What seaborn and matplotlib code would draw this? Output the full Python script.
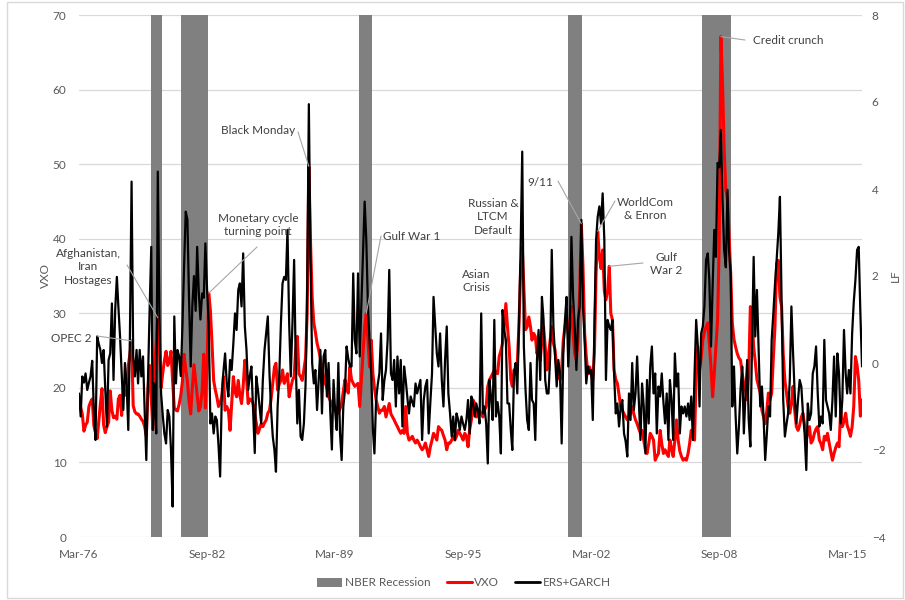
import matplotlib
matplotlib.use("Agg")
import matplotlib.dates as mdates
import matplotlib.pyplot as plt
import pandas as pd
import seaborn as sns
from matplotlib.lines import Line2D
from matplotlib.patches import Patch, Rectangle

# VXO, monthly, Mar-1976 .. Dec-2015 (left axis), one row per year
vxo_1970s = [
    18.2, 17.4, 16.5, 14.2, 15.0, 15.4, 17.5, 18.1, 18.5, 15.0,
    14.0, 13.2, 15.4, 17.8, 19.9, 15.0, 14.0, 14.8, 15.4, 19.6, 17.0, 16.0,
    16.2, 15.8, 18.5, 19.0, 16.3, 19.9, 19.0, 19.2, 23.0, 24.5, 26.3, 17.6,
    16.8, 16.5, 16.5, 16.2, 15.8, 15.5, 14.8, 13.6, 19.9, 23.0, 18.7, 14.5,
]
vxo_1980s = [
    22.7, 26.0, 29.4, 25.4, 20.0, 22.0, 23.6, 24.9, 23.0, 23.6, 24.9, 20.9,
    17.3, 17.0, 16.9, 17.8, 19.0, 20.9, 24.5, 22.5, 20.9, 18.2, 16.5, 20.0,
    23.1, 21.0, 19.1, 16.9, 17.5, 19.6, 24.5, 17.3, 23.1, 32.7, 30.4, 26.0,
    21.0, 19.7, 18.8, 17.5, 18.0, 18.8, 21.5, 17.0, 17.5, 17.0, 14.3, 17.9,
    21.5, 19.5, 18.8, 21.0, 19.0, 17.9, 20.2, 23.7, 21.5, 17.9, 18.5, 18.4,
    17.9, 16.5, 15.2, 13.9, 14.5, 15.2, 14.8, 15.3, 15.7, 16.6, 17.0, 18.5,
    20.6, 22.8, 23.3, 19.7, 20.5, 21.0, 22.4, 20.6, 21.2, 21.9, 18.8, 20.0,
    21.0, 21.5, 25.0, 26.9, 21.9, 21.5, 21.0, 22.4, 24.0, 30.0, 49.7, 39.8,
    32.2, 28.7, 27.5, 26.0, 25.1, 24.0, 22.8, 21.5, 20.6, 20.0, 18.8, 18.3,
    17.9, 17.0, 17.5, 17.0, 16.6, 17.2, 17.9, 19.5, 21.1, 20.0, 19.3, 22.8,
]
vxo_1990s = [
    21.1, 20.6, 20.2, 20.4, 20.6, 17.5, 21.0, 24.6, 28.2, 30.0, 26.4, 22.8,
    26.4, 21.9, 20.0, 18.4, 17.5, 16.6, 17.0, 17.0, 17.5, 16.1, 17.0, 17.9,
    16.5, 16.1, 15.7, 15.2, 14.8, 14.3, 13.9, 14.3, 13.9, 17.5, 13.9, 13.0,
    13.2, 13.5, 13.0, 12.6, 13.0, 12.6, 12.1, 11.7, 12.0, 12.6, 11.7, 10.8,
    12.1, 13.0, 13.9, 13.5, 13.0, 14.8, 14.5, 14.3, 13.6, 13.0, 11.7, 12.6,
    12.6, 13.0, 13.5, 13.0, 13.5, 14.3, 13.9, 13.5, 13.0, 13.9, 13.5, 12.1,
    14.5, 15.7, 18.4, 17.9, 16.1, 16.5, 17.0, 16.5, 16.1, 17.0, 17.5, 20.2,
    21.1, 21.5, 21.9, 22.4, 22.0, 21.9, 24.2, 25.0, 26.0, 28.2, 31.3, 28.2,
    25.5, 21.1, 20.2, 22.4, 21.9, 23.3, 28.2, 35.4, 38.9, 33.6, 27.8, 28.2,
    29.5, 28.2, 26.4, 27.3, 26.9, 24.6, 25.5, 23.7, 26.4, 28.2, 25.5, 22.4,
]
vxo_2000s = [
    24.5, 26.4, 28.2, 26.0, 25.1, 22.8, 21.9, 21.1, 22.4, 26.4, 28.2, 29.5,
    27.3, 28.2, 30.9, 27.3, 24.6, 23.7, 26.4, 33.1, 42.0, 36.3, 27.3, 24.2,
    21.9, 22.8, 21.9, 21.1, 24.6, 35.4, 41.0, 37.6, 36.0, 38.5, 33.0, 31.8,
    33.0, 36.3, 30.0, 29.1, 22.4, 21.1, 20.6, 19.0, 17.5, 17.0, 16.5, 16.1,
    15.7, 16.2, 16.6, 17.5, 16.5, 15.7, 15.2, 14.5, 13.9, 14.3, 13.0, 11.7,
    11.2, 12.5, 13.9, 13.5, 13.0, 10.3, 10.8, 11.2, 14.3, 12.5, 11.2, 11.7,
    11.2, 10.8, 13.0, 11.8, 10.8, 13.0, 15.7, 13.0, 11.5, 10.8, 10.3, 10.5,
    10.3, 11.2, 12.5, 14.3, 13.5, 13.0, 21.9, 25.5, 22.4, 24.0, 26.4, 27.5,
    28.2, 28.7, 26.0, 22.8, 18.8, 22.0, 25.5, 29.1, 39.8, 67.1, 60.8, 52.0,
    46.5, 45.2, 40.7, 35.4, 28.7, 26.5, 25.5, 24.6, 24.0, 23.7, 21.9, 20.5,
]
vxo_2010s = [
    19.7, 18.4, 21.9, 30.9, 30.0, 25.5, 23.5, 21.1, 20.2, 19.3, 17.0, 16.1,
    15.2, 17.0, 19.3, 18.4, 19.3, 24.0, 28.2, 36.7, 37.1, 32.2, 30.9, 24.6,
    21.0, 19.3, 17.5, 16.6, 17.9, 20.2, 17.0, 14.8, 14.3, 15.0, 16.1, 16.6,
    15.0, 13.0, 14.0, 14.8, 12.6, 13.0, 13.9, 14.5, 14.8, 13.0, 12.5, 11.7,
    13.5, 13.0, 13.9, 12.6, 11.5, 10.3, 11.2, 12.0, 12.6, 12.1, 17.0, 14.8,
    15.5, 16.6, 15.0, 14.3, 13.5, 14.8, 17.5, 24.2, 23.0, 21.0, 16.2, 18.4,
]

# ERS+GARCH, same months (right axis "LF")
lf_1970s = [
    -0.70, -1.23, -0.31, -0.45, -0.24, -0.62, -0.45, -0.31, 0.05, -1.08,
    -1.77, 0.61, 0.45, 0.30, 0.00, 0.30, -0.60, -1.46, 0.07, 0.22, 1.37, -0.39,
    1.22, 1.98, 1.30, 0.61, -0.20, -1.08, 0.00, -0.50, -1.54, 0.61, 4.17, 0.15,
    -0.31, 0.30, -0.47, 0.30, -0.31, 0.15, -1.08, -2.23, -0.39, 1.20, 2.67, -1.54,
]
lf_1980s = [
    -0.47, -1.62, 4.40, 1.07, -0.70, -1.20, -1.62, -1.85, -1.08, -1.23, -2.00, -3.30,
    1.07, -0.47, 0.30, 0.15, -0.30, 0.84, 2.20, 3.48, 3.30, 1.50, -0.08, 1.30,
    2.00, 1.20, 2.67, 1.60, 1.00, 1.60, 1.50, 2.75, 1.68, 0.91, -1.39, -1.16,
    -1.62, -1.23, -1.31, -1.90, -2.61, -0.77, -0.20, 0.22, -0.47, -0.77, 0.07, -0.16,
    0.45, 1.14, 0.76, 1.68, 1.83, 1.30, 2.52, 0.84, 0.30, -0.62, -0.30, -0.08,
    -1.08, -2.07, -0.31, -0.62, -1.00, -1.39, -0.39, 0.30, 0.70, 1.07, -0.24, -1.08,
    -1.69, -2.00, -2.50, -1.00, -0.31, 0.91, 1.83, 1.98, 1.91, 3.06, 0.91, -0.31,
    0.91, 2.37, 0.15, -1.39, -0.62, -1.69, -1.77, -1.39, -0.50, 1.68, 5.95, 2.44,
    0.00, -0.47, -0.16, -1.08, -0.39, 0.30, -1.16, 0.15, 0.30, -0.77, 0.00, -1.08,
    -1.99, -0.39, -1.08, -1.54, 0.00, -1.62, -2.23, -1.00, -0.62, 0.38, 0.10, -0.08,
]
lf_1990s = [
    -0.08, 2.06, 0.53, 0.22, 2.06, 0.15, 1.30, 2.50, 3.71, 2.83, 1.30, 0.50,
    -0.24, -1.54, -2.08, -0.85, -0.50, -0.24, 0.68, -0.85, -0.40, -0.16, 0.53, 2.14,
    -0.24, -0.39, 0.07, -1.00, 0.15, -0.70, 0.07, -1.46, -0.08, -0.39, -0.80, -1.16,
    -0.77, -0.90, -1.00, -0.47, -0.70, -0.54, -0.39, -1.77, -0.85, -0.54, -0.39, -1.62,
    -0.90, -0.24, 1.52, 0.84, 0.22, -0.08, 0.68, -0.39, -1.00, 0.07, 0.84, -0.70,
    -1.16, -1.69, -1.23, -1.77, -1.16, -1.30, -1.54, -1.23, -1.40, -1.54, -1.31, -0.85,
    -1.62, -0.77, -0.93, -1.23, -0.93, -1.10, -1.39, 1.14, -1.16, -1.00, -1.39, -2.31,
    -0.39, -0.80, -1.31, 0.99, -1.23, -0.90, -1.23, -2.08, 1.22, 0.76, 0.53, -0.93,
    -0.93, -1.54, -2.00, -0.24, 0.00, -0.70, 0.84, 2.60, 4.86, 0.38, -0.62, -1.31,
    -1.54, 0.00, -0.85, -0.93, -1.77, 0.07, 0.76, -0.39, 1.52, 1.00, -0.39, -0.70,
]
lf_2000s = [
    -0.70, 0.15, 2.60, 0.84, 0.15, -0.54, 0.07, -0.24, -1.85, 0.22, 0.99, 1.52,
    -0.08, 0.84, 2.90, 1.52, 0.84, -0.16, 0.99, 1.30, 3.29, 1.30, 0.53, -0.47,
    -0.08, -0.24, -0.16, -1.31, 0.84, 2.83, 3.36, 3.60, 3.20, 3.90, 2.83, -0.39,
    0.99, 0.84, 0.76, 0.99, -0.24, -1.16, -0.93, -1.46, -1.00, -0.85, -1.62, -1.80,
    -2.15, -0.70, -1.31, 0.00, -1.08, -0.70, 0.15, -0.85, -1.77, -0.47, -1.00, -2.08,
    -0.39, -1.39, -0.08, 0.38, -0.70, -0.24, -1.62, -0.54, -0.77, -0.24, -0.90, -1.39,
    -0.70, -1.77, -0.39, -0.85, -1.77, 0.22, -0.54, -0.24, -1.62, -1.00, -1.16, -1.00,
    -1.23, -0.93, -1.31, -0.77, -1.77, -0.24, 0.99, 0.38, -1.00, 0.68, 0.84, 1.30,
    2.37, 2.52, 1.91, 0.38, 1.75, 3.06, 2.44, 4.60, 4.50, 5.36, 3.75, 2.60,
    2.20, 3.98, 2.60, 2.07, -1.00, -0.08, -1.20, -2.08, -1.46, -0.60, -0.08, -1.62,
]
lf_2010s = [
    -0.70, 0.07, -1.31, -1.92, 0.38, 2.44, 0.61, 1.68, 0.30, -1.00, -0.54, -1.23,
    -2.23, -1.62, -1.00, -1.23, 0.53, 1.14, 1.80, 2.37, 2.98, 3.82, 1.45, -0.85,
    -1.69, -1.40, -1.16, -0.39, 1.30, 0.22, -0.70, -1.39, -0.85, -0.39, -0.54, -1.16,
    -1.62, -2.46, -0.93, -1.31, -1.16, -0.24, -0.08, 0.38, -0.70, -1.46, -1.23, -1.39,
    0.53, -0.85, -1.00, -1.16, -1.54, -0.85, 0.15, -1.23, 0.22, -0.24, -1.39, -0.85,
    0.76, -0.24, -0.70, -0.16, -0.70, 0.68, 1.40, 1.91, 2.60, 2.67, 1.14, -0.08,
]

# shaded NBER recessions as drawn in the chart
recession_start = ["1979-11-01", "1981-05-05", "1990-05-13", "2000-12-28", "2007-10-10"]
recession_end = ["1980-05-19", "1982-09-12", "1991-01-19", "2001-09-21", "2009-04-06"]

tick_labels = ["Mar-76", "Sep-82", "Mar-89", "Sep-95", "Mar-02", "Sep-08", "Mar-15"]

# event labels and the month of the VXO point each leader line points at
event_text = ["OPEC 2", "Afghanistan,\nIran\nHostages", "Monetary cycle\nturning point",
              "Black Monday", "Gulf War 1", "Asian\nCrisis", "Russian &\nLTCM\nDefault",
              "9/11", "WorldCom\n& Enron", "Gulf\nWar 2", "Credit crunch"]
event_month = ["1978-11", "1980-03", "1982-10", "1987-11", "1990-10", None, None,
               "2001-09", "2002-07", "2003-02", "2008-10"]
# label centre and leader start, in image pixels from the top-left
event_pos = [(71, 338), (88, 267), (258, 225), (258, 131), (412, 236), (476, 281),
             (493, 217), (540, 182), (645, 209), (666, 264), (788, 41)]
leader_start = [(97, 336), (127, 265), (257, 247), (298, 132), (381, 236), None, None,
                (558, 181), (615, 201), (643, 263), (745, 40)]

vxo = vxo_1970s + vxo_1980s + vxo_1990s + vxo_2000s + vxo_2010s
lf = lf_1970s + lf_1980s + lf_1990s + lf_2000s + lf_2010s
df = pd.DataFrame({
    "date": pd.date_range("1976-03-01", periods=len(vxo), freq="MS"),
    "VXO": vxo,
    "LF": lf,
})

sns.set_style("white")
plt.rcParams["font.family"] = ["Lato", "DejaVu Sans"]

W, H = 905, 600
fig = plt.figure(figsize=(W / 100, H / 100), dpi=100)
fig.patches.append(Rectangle((7 / W, 2 / H), 896 / W, 596 / H, transform=fig.transFigure,
                             fill=False, ec="#d9d9d9", lw=1))
ax = fig.add_axes([79 / W, 63 / H, 783 / W, 522 / H])

ax.set_axisbelow(True)
ax.grid(axis="y", color="#d9d9d9", lw=0.9)
for s, e in zip(recession_start, recession_end):
    ax.axvspan(pd.Timestamp(s), pd.Timestamp(e), color="#808080", lw=0, zorder=1)

sns.lineplot(data=df, x="date", y="VXO", ax=ax, color="#ff0000", lw=2.2, zorder=3)
ax2 = ax.twinx()
sns.lineplot(data=df, x="date", y="LF", ax=ax2, color="black", lw=1.6, zorder=3)

ax.set_xlim(df["date"].iloc[0], df["date"].iloc[-1])
ax.set_ylim(0, 70)
ax.set_yticks(range(0, 71, 10))
ax2.set_ylim(-4, 8)
ax2.set_yticks(range(-4, 9, 2))
ax.set_xticks(pd.to_datetime(tick_labels, format="%b-%y"))
ax.set_xticklabels(tick_labels)

for a in (ax, ax2):
    for sp in a.spines.values():
        sp.set_visible(False)
    a.tick_params(length=0, labelsize=8.5, labelcolor="#595959")
ax.tick_params(axis="x", pad=9)
ax.tick_params(axis="y", pad=9)
ax2.tick_params(axis="y", pad=7)
ax.set_xlabel("")
ax.set_ylabel("VXO", fontsize=8.5, color="#595959", labelpad=1)
ax2.set_ylabel("LF", fontsize=8.5, color="#595959", labelpad=3)

txt_color = "#404040"
for text, month, (tx, ty), start in zip(event_text, event_month, event_pos, leader_start):
    ax2.annotate(text, xy=(tx, H - ty), xycoords="figure pixels", ha="center", va="center",
                 fontsize=8.5, color=txt_color, linespacing=1.25, zorder=6)
    if month is None:
        continue
    row = df[df["date"] == pd.Timestamp(month)].iloc[0]
    target = (mdates.date2num(row["date"]), row["VXO"])
    ax2.annotate("", xy=target, xycoords=ax.transData,
                 xytext=(start[0], H - start[1]), textcoords="figure pixels",
                 arrowprops=dict(arrowstyle="-", color="#a6a6a6", lw=0.8,
                                 shrinkA=0, shrinkB=0), zorder=5)

handles = [
    Patch(facecolor="#808080", edgecolor="none"),
    Line2D([], [], color="#ff0000", lw=2.2),
    Line2D([], [], color="black", lw=2),
]
fig.legend(handles, ["NBER Recession", "VXO", "ERS+GARCH"], loc="center",
           bbox_to_anchor=(464 / W, 1 - 583 / H), ncol=3, frameon=False, fontsize=8.5,
           handlelength=2.1, handleheight=0.7, handletextpad=0.2, columnspacing=1.4,
           labelcolor="#595959")

fig.savefig("out.png", dpi=100)
